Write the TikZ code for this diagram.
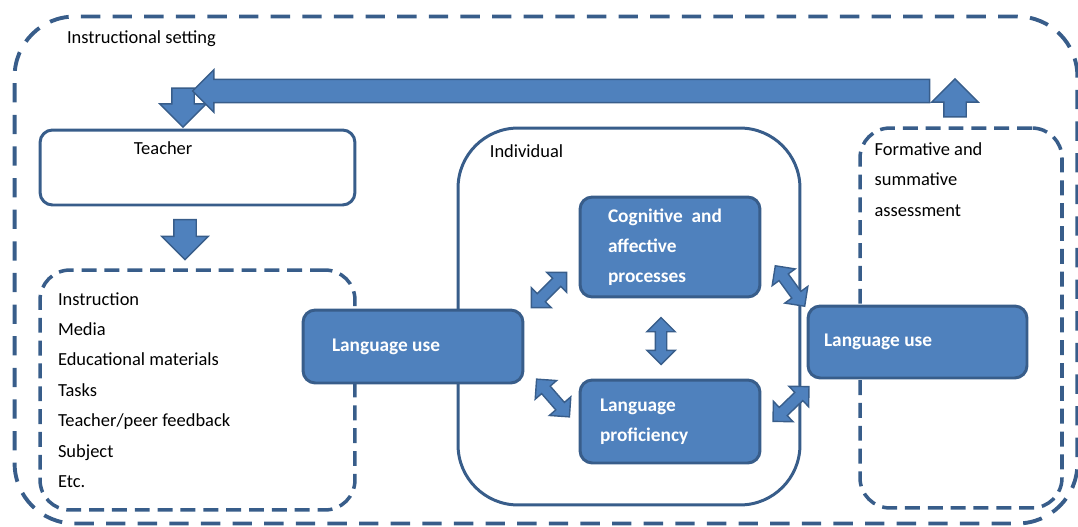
\documentclass[tikz,border=0pt]{standalone}
\usepackage{fontspec}
\setmainfont{Carlito}
\usetikzlibrary{shapes.arrows,positioning}

\definecolor{boxblue}{RGB}{79,129,189}
\definecolor{edgeblue}{RGB}{56,93,138}

\begin{document}
\begin{tikzpicture}[x=0.02cm, y=-0.02cm,
  txt/.style={inner sep=0, font=\fontsize{10.5}{17.3}\selectfont, align=flush left},
  frame/.style={draw=edgeblue, line width=1.7pt, rounded corners=#1, inner sep=0},
  dashframe/.style={draw=edgeblue, line width=2pt, dash pattern=on 8.5pt off 4.5pt, rounded corners=#1, inner sep=0},
  bluebox/.style={draw=edgeblue, line width=1.7pt, fill=boxblue, rounded corners=7pt, text=white,
    font=\bfseries\fontsize{11}{17}\selectfont, align=flush left, inner ysep=0},
  blockarrow/.style={single arrow, draw=edgeblue, fill=boxblue, line width=0.8pt, inner xsep=0,
    inner ysep=0.21cm, single arrow head extend=0.24cm},
  twoway/.style={double arrow, draw=edgeblue, fill=boxblue, line width=0.8pt, inner xsep=0,
    inner ysep=0.1cm, double arrow head extend=0.17cm, minimum height=1cm}]
\useasboundingbox (0,0) rectangle (1078,527);

% frames
\node[dashframe=1.2cm, line width=2.2pt, dash pattern=on 11pt off 7pt,
  minimum width=21.26cm, minimum height=10.14cm] (setting) at (546,270) {};
\node[txt, below right=0.32cm and 1.08cm of setting.north west] (settinglbl) {Instructional setting};

\node[frame=0.25cm, minimum width=6.3cm, minimum height=1.5cm] (teacher) at (197.5,167.5) {};
\node[txt, below right=0.26cm and 1.9cm of teacher.north west] (teacherlbl) {Teacher};

\node[dashframe=0.6cm, txt, text width=5.58cm, inner xsep=0.36cm,
  minimum height=4.8cm] (means) at (197.5,390)
  {Instruction\\Media\\Educational materials\\Tasks\\Teacher/peer feedback\\Subject\\Etc.};

\node[frame=1.2cm, minimum width=6.84cm, minimum height=7.54cm] (individual) at (629,316.5) {};
\node[txt, below right=0.36cm and 0.66cm of individual.north west] (individuallbl) {Individual};

\node[dashframe=0.6cm, minimum width=4.04cm, minimum height=7.6cm] (assess) at (961,318) {};
\node[txt, below right=0.32cm and 0.32cm of assess.north west] (assesslbl)
  {Formative and\\summative\\assessment};

% filled boxes
\node[bluebox, text width=2.48cm, inner xsep=0.56cm, minimum height=2cm] (cogn) at (670,247)
  {Cognitive\ \ and\\affective\\processes};
\node[bluebox, text width=2.8cm, inner xsep=0.4cm, minimum height=1.66cm] (prof) at (670,421.5)
  {Language\\proficiency};
\node[bluebox, text width=3.24cm, inner xsep=0.58cm, minimum height=1.46cm] (useleft) at (413,346.5)
  {Language use};
\node[bluebox, text width=3.74cm, inner xsep=0.32cm, minimum height=1.44cm] (useright) at (917.5,342)
  {Language use};

% block arrows
\node[blockarrow, minimum height=0.78cm, rotate=-90] (toteacher) at (183,102) {};
\node[blockarrow, minimum height=0.8cm, rotate=-90] (tomeans) at (185,234) {};
\node[blockarrow, minimum height=0.76cm, rotate=90] (fromassess) at (955,103.5) {};
\node[blockarrow, minimum height=14.74cm, inner ysep=0.22cm, single arrow head extend=0.19cm,
  rotate=180] (feedback) at (567,91) {};

% two-way arrows
\node[twoway, rotate=45] (a1) at (549,290) {};
\node[twoway, rotate=-49] (a2) at (553,398) {};
\node[twoway, rotate=90, minimum height=0.94cm] (a3) at (661,341) {};
\node[twoway, rotate=-54] (a4) at (790,286) {};
\node[twoway, rotate=44] (a5) at (791,404) {};
\end{tikzpicture}
\end{document}
